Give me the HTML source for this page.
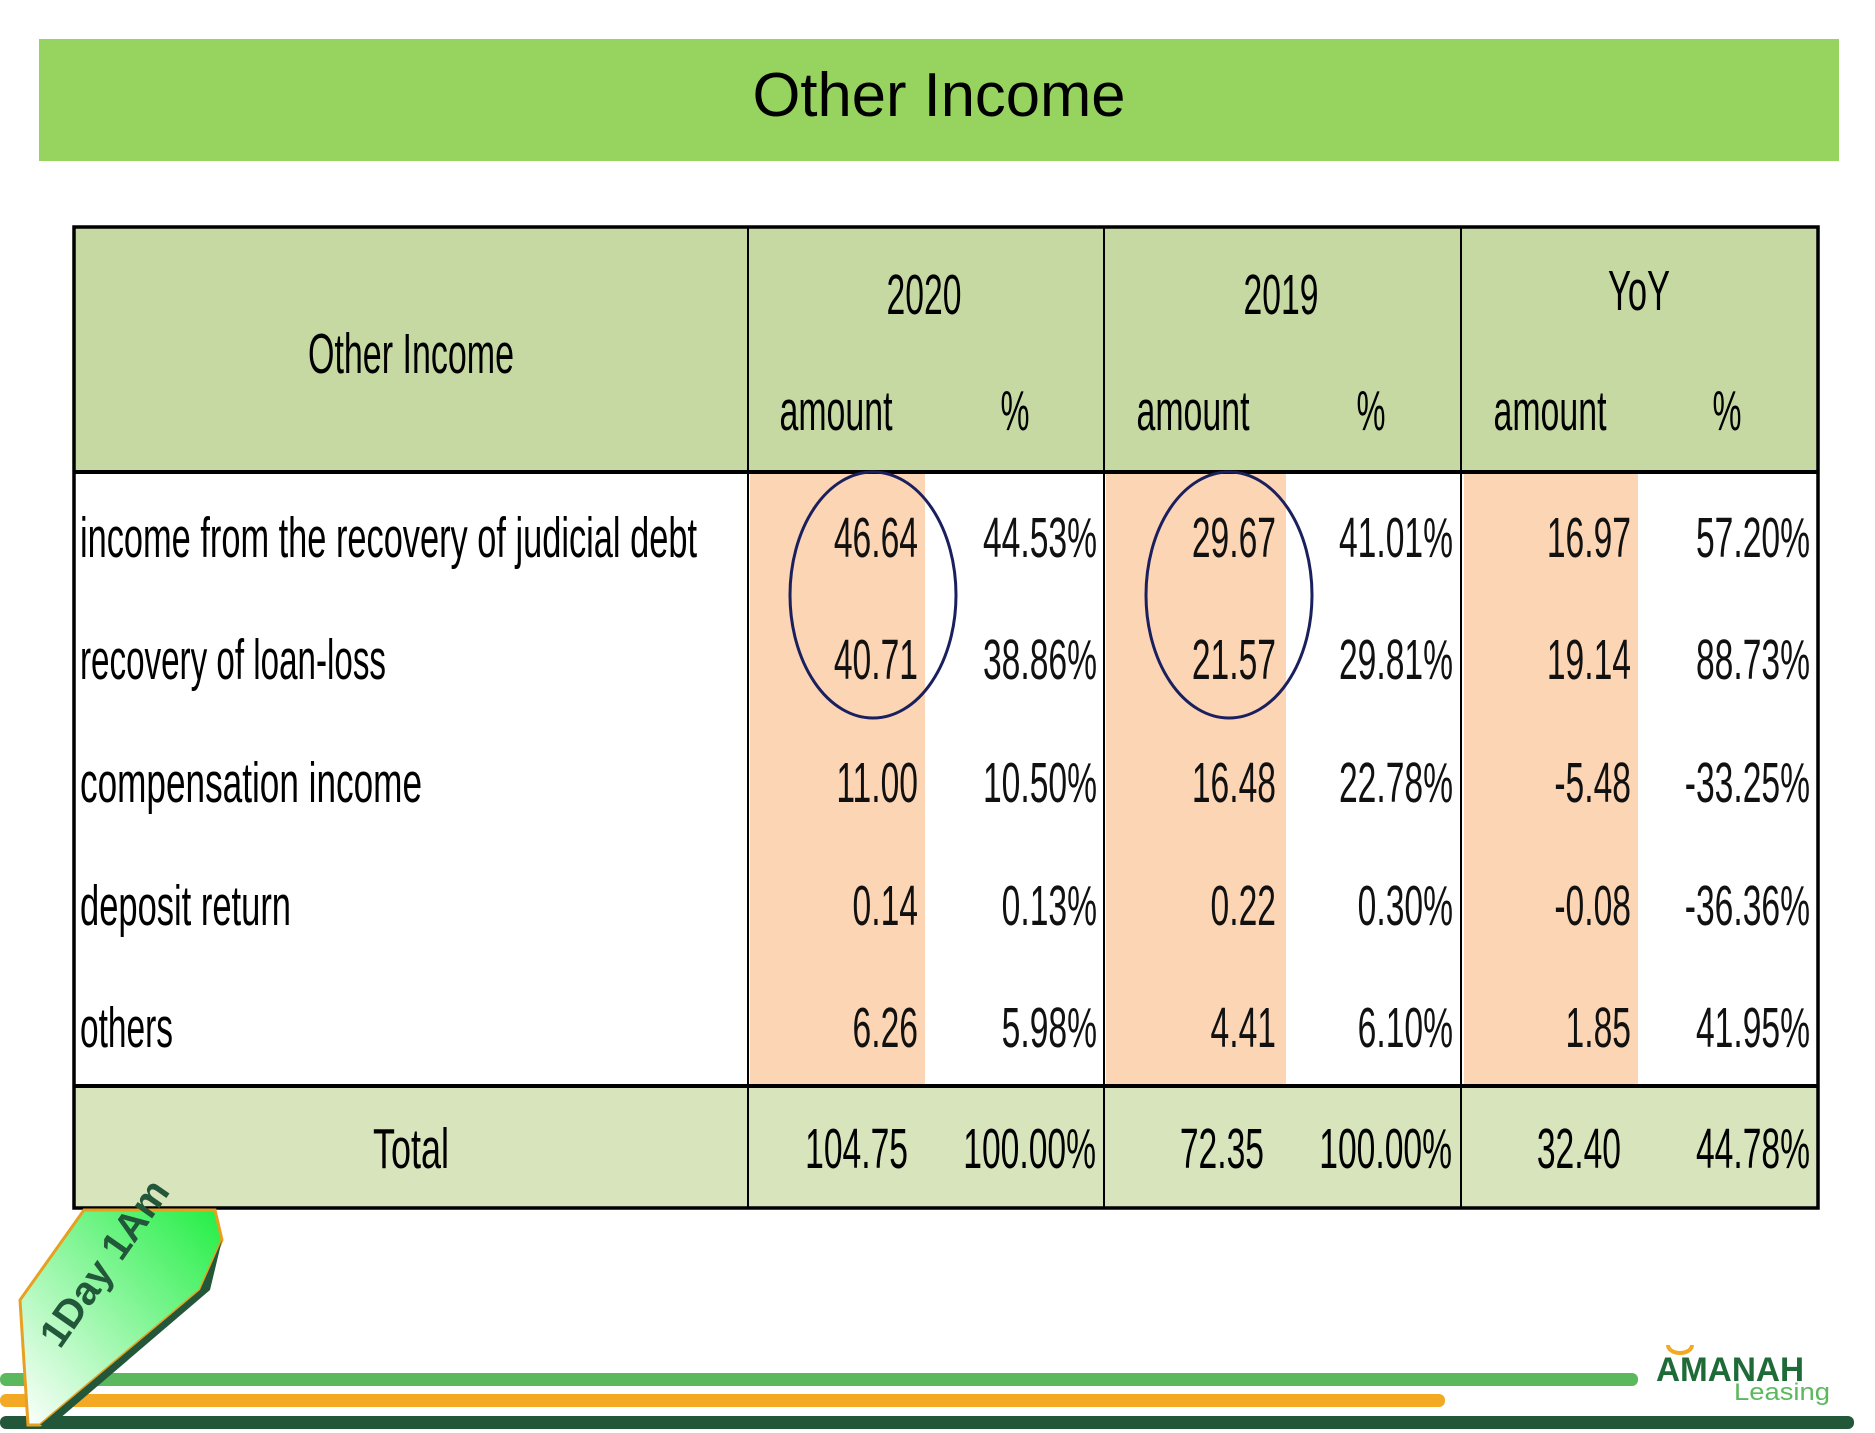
<!DOCTYPE html>
<html><head><meta charset="utf-8"><style>html,body{margin:0;padding:0;background:#fff}svg{display:block}</style></head>
<body>
<svg width="1875" height="1433" viewBox="0 0 1875 1433" xmlns="http://www.w3.org/2000/svg" font-family="Liberation Sans, sans-serif">
<defs>
<linearGradient id="tg" x1="0" y1="1" x2="1" y2="0"><stop offset="0" stop-color="#ffffff"/><stop offset="1" stop-color="#22ee44"/></linearGradient>
</defs>
<rect x="0" y="0" width="1875" height="1433" fill="#fff"/>
<rect x="39" y="39" width="1800" height="122" fill="#96d35f"/>
<text x="939" y="116" font-size="62" text-anchor="middle" textLength="373" lengthAdjust="spacingAndGlyphs" fill="#000">Other Income</text>

<!-- table backgrounds -->
<rect x="74" y="227" width="1744" height="245" fill="#c6d9a2"/>
<rect x="74" y="1086" width="1744" height="122" fill="#d8e4bc"/>
<rect x="750" y="472" width="175" height="614" fill="#fcd5b4"/>
<rect x="1106" y="472" width="180" height="614" fill="#fcd5b4"/>
<rect x="1464" y="472" width="174" height="614" fill="#fcd5b4"/>
<!-- lines -->
<g stroke="#000">
<rect x="74" y="227" width="1744" height="981" fill="none" stroke-width="3.5"/>
<line x1="74" y1="472" x2="1818" y2="472" stroke-width="4"/>
<line x1="74" y1="1086" x2="1818" y2="1086" stroke-width="4"/>
<line x1="748" y1="227" x2="748" y2="1208" stroke-width="2"/>
<line x1="1104" y1="227" x2="1104" y2="1208" stroke-width="2"/>
<line x1="1461" y1="227" x2="1461" y2="1208" stroke-width="2"/>
</g>
<!-- header text -->
<g font-size="57" fill="#000" text-anchor="middle">
<text x="411" y="373" textLength="206" lengthAdjust="spacingAndGlyphs">Other Income</text>
<text x="924" y="314" textLength="75" lengthAdjust="spacingAndGlyphs">2020</text>
<text x="1281" y="314" textLength="75" lengthAdjust="spacingAndGlyphs">2019</text>
<text x="1639" y="310" textLength="62" lengthAdjust="spacingAndGlyphs">YoY</text>
<text x="836" y="430" textLength="113" lengthAdjust="spacingAndGlyphs">amount</text>
<text x="1193" y="430" textLength="113" lengthAdjust="spacingAndGlyphs">amount</text>
<text x="1550" y="430" textLength="113" lengthAdjust="spacingAndGlyphs">amount</text>
<text x="1015" y="430" textLength="29" lengthAdjust="spacingAndGlyphs">%</text>
<text x="1371" y="430" textLength="29" lengthAdjust="spacingAndGlyphs">%</text>
<text x="1727" y="430" textLength="29" lengthAdjust="spacingAndGlyphs">%</text>
</g>
<!-- row labels -->
<g font-size="57" fill="#000">
<text x="80" y="557" textLength="617" lengthAdjust="spacingAndGlyphs">income from the recovery of judicial debt</text>
<text x="80" y="679" textLength="306" lengthAdjust="spacingAndGlyphs">recovery of loan-loss</text>
<text x="80" y="802" textLength="342" lengthAdjust="spacingAndGlyphs">compensation income</text>
<text x="80" y="925" textLength="211" lengthAdjust="spacingAndGlyphs">deposit return</text>
<text x="80" y="1047" textLength="93" lengthAdjust="spacingAndGlyphs">others</text>
<text x="411" y="1168" text-anchor="middle" textLength="76" lengthAdjust="spacingAndGlyphs">Total</text>
</g>
<!-- numbers: scaled horizontally -->
<g font-size="57" fill="#111" text-anchor="end">
<g transform="translate(918,0) scale(0.59,1)">
<text x="0" y="557">46.64</text><text x="0" y="679">40.71</text><text x="0" y="802">11.00</text><text x="0" y="925">0.14</text><text x="0" y="1047">6.26</text></g>
<g transform="translate(1097,0) scale(0.59,1)">
<text x="0" y="557">44.53%</text><text x="0" y="679">38.86%</text><text x="0" y="802">10.50%</text><text x="0" y="925">0.13%</text><text x="0" y="1047">5.98%</text></g>
<g transform="translate(1276,0) scale(0.59,1)">
<text x="0" y="557">29.67</text><text x="0" y="679">21.57</text><text x="0" y="802">16.48</text><text x="0" y="925">0.22</text><text x="0" y="1047">4.41</text></g>
<g transform="translate(1453,0) scale(0.59,1)">
<text x="0" y="557">41.01%</text><text x="0" y="679">29.81%</text><text x="0" y="802">22.78%</text><text x="0" y="925">0.30%</text><text x="0" y="1047">6.10%</text></g>
<g transform="translate(1631,0) scale(0.59,1)">
<text x="0" y="557">16.97</text><text x="0" y="679">19.14</text><text x="0" y="802">-5.48</text><text x="0" y="925">-0.08</text><text x="0" y="1047">1.85</text></g>
<g transform="translate(1810,0) scale(0.59,1)">
<text x="0" y="557">57.20%</text><text x="0" y="679">88.73%</text><text x="0" y="802">-33.25%</text><text x="0" y="925">-36.36%</text><text x="0" y="1047">41.95%</text></g>
<g fill="#000">
<text transform="translate(908,0) scale(0.59,1)" x="0" y="1168">104.75</text>
<text transform="translate(1096,0) scale(0.59,1)" x="0" y="1168">100.00%</text>
<text transform="translate(1264,0) scale(0.59,1)" x="0" y="1168">72.35</text>
<text transform="translate(1452,0) scale(0.59,1)" x="0" y="1168">100.00%</text>
<text transform="translate(1621,0) scale(0.59,1)" x="0" y="1168">32.40</text>
<text transform="translate(1810,0) scale(0.59,1)" x="0" y="1168">44.78%</text>
</g>
</g>
<!-- circles -->
<ellipse cx="873" cy="595" rx="83" ry="123" fill="none" stroke="#1a1f5e" stroke-width="3"/>
<ellipse cx="1229" cy="595" rx="83" ry="123" fill="none" stroke="#1a1f5e" stroke-width="3"/>

<!-- bottom bars -->
<rect x="0" y="1373" width="1638" height="13" rx="6" fill="#5cb85c"/>
<rect x="0" y="1394" width="1445" height="13" rx="6" fill="#f3a924"/>
<rect x="0" y="1416" width="1854" height="13" rx="6" fill="#23573a"/>
<!-- tag -->
<polygon points="84,1210 215,1210 222,1240 200,1290 40,1425 28,1425 20,1300" fill="url(#tg)" stroke="#e8a020" stroke-width="3"/>
<polygon points="222,1240 200,1290 40,1425 52,1425 210,1290" fill="#23573a"/>
<text x="0" y="0" font-size="40" font-weight="bold" fill="#23573a" transform="translate(60,1350) rotate(-55)">1Day 1Am</text>
<!-- logo -->
<text x="1656" y="1381" font-size="34" font-weight="bold" fill="#1e6b38" textLength="148" lengthAdjust="spacingAndGlyphs">AMANAH</text>
<text x="1734" y="1400" font-size="24" fill="#5cb85c" textLength="96" lengthAdjust="spacingAndGlyphs">Leasing</text>
<path d="M1668,1345 a12,8 0 1,0 24,0" fill="none" stroke="#f3a924" stroke-width="4"/>
</svg>
</body></html>
